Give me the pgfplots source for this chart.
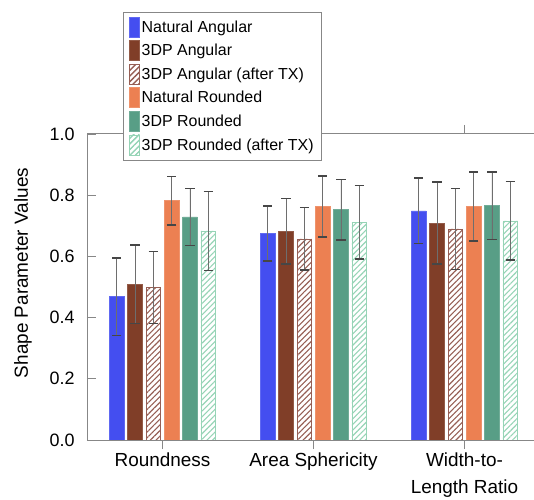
\documentclass[border=0pt]{standalone}
\usepackage{pgfplots}
\pgfplotsset{compat=1.18}
\usetikzlibrary{patterns.meta}
\usepackage{fontspec}
\setmainfont{Liberation Sans}
\definecolor{cblue}{RGB}{68,78,240}
\definecolor{cbrown}{RGB}{128,62,40}
\definecolor{corange}{RGB}{236,128,82}
\definecolor{cgreen}{RGB}{88,158,134}
\definecolor{chatchb}{RGB}{150,95,85}
\definecolor{chatchg}{RGB}{150,212,182}
\definecolor{axgray}{RGB}{135,135,135}
\definecolor{errgray}{RGB}{110,110,110}
\definecolor{capgray}{RGB}{70,70,70}
\begin{document}
\begin{tikzpicture}
\begin{axis}[
  at={(87bp,60bp)}, anchor=south west,
  width=453bp, height=306bp, scale only axis,
  ymin=0, ymax=1, xmin=-0.5, xmax=2.5,
  ybar=3.6bp, bar width=14.7bp,
  xtick={0,1,2},
  xticklabels={Roundness, Area Sphericity, {Width-to-\\Length Ratio}},
  x tick label style={align=center, font=\fontsize{19}{27}\selectfont},
  ytick={0,0.2,0.4,0.6,0.8,1.0},
  y tick label style={font=\fontsize{18}{20}\selectfont},
  yticklabel style={/pgf/number format/fixed, /pgf/number format/fixed zerofill, /pgf/number format/precision=1, /pgf/number format/assume math mode=true},
  ylabel={Shape Parameter Values},
  ylabel style={font=\fontsize{19}{22}\selectfont, xshift=14bp, yshift=11bp},
  tick align=outside, major tick length=9bp,
  y tick style={xshift=9bp},
  tick style={axgray, line width=0.8bp},
  axis line style={axgray, line width=1bp},
  legend style={at={(0.0793,1.3987)}, anchor=north west, draw=axgray, fill=white,
    font=\fontsize{16}{19}\selectfont, row sep=3bp, inner xsep=6bp, inner ysep=4.5bp},
  legend cell align=left,
  every axis plot/.append style={
    legend image code/.code={\draw[##1] (0bp,-10bp) rectangle (10bp,10bp);
      \pgfresetboundingbox\useasboundingbox (0bp,-10bp) rectangle (10bp,10bp);},
    error bars/y dir=both, error bars/y explicit,
    error bars/error bar style={errgray, line width=0.9bp},
    error bars/error mark options={rotate=90, mark size=4.6bp, line width=1.4bp, capgray}},
]
\addplot[fill=cblue, draw=cblue!85!white, line width=0.6bp] table[x=x, y=y, y error=e]{
x y e
0 0.468 0.127
1 0.675 0.090
2 0.749 0.107
};
\addlegendentry{Natural Angular}
\addplot[fill=cbrown, draw=cbrown!85!white, line width=0.6bp] table[x=x, y=y, y error=e]{
x y e
0 0.509 0.128
1 0.682 0.107
2 0.709 0.134
};
\addlegendentry{3DP Angular}
\addplot[pattern={Lines[angle=45, distance=4bp, line width=1.1bp]}, pattern color=chatchb, draw=chatchb, line width=0.6bp] table[x=x, y=y, y error=e]{
x y e
0 0.498 0.118
1 0.657 0.102
2 0.690 0.132
};
\addlegendentry{3DP Angular (after TX)}
\addplot[fill=corange, draw=corange!85!white, line width=0.6bp] table[x=x, y=y, y error=e]{
x y e
0 0.782 0.079
1 0.763 0.100
2 0.763 0.113
};
\addlegendentry{Natural Rounded}
\addplot[fill=cgreen, draw=cgreen!85!white, line width=0.6bp] table[x=x, y=y, y error=e]{
x y e
0 0.729 0.093
1 0.753 0.099
2 0.766 0.110
};
\addlegendentry{3DP Rounded}
\addplot[pattern={Lines[angle=45, distance=4bp, line width=1.1bp]}, pattern color=chatchg, draw=chatchg, line width=0.6bp] table[x=x, y=y, y error=e]{
x y e
0 0.683 0.129
1 0.711 0.120
2 0.716 0.128
};
\addlegendentry{3DP Rounded (after TX)}
\end{axis}
\pgfresetboundingbox
\useasboundingbox (0,0) rectangle (534bp,500bp);
\end{tikzpicture}
\end{document}
